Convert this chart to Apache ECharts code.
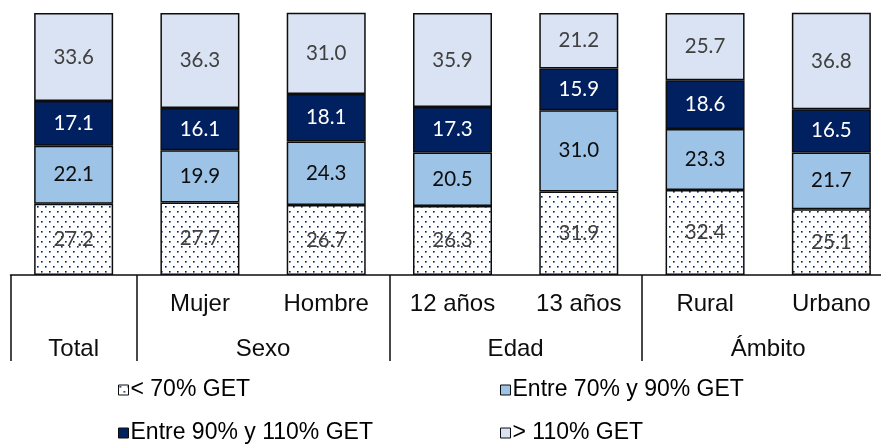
<!DOCTYPE html>
<html>
<head>
<meta charset="utf-8">
<script src="https://cdn.jsdelivr.net/npm/echarts@6/dist/echarts.min.js"></script>
<style>
  html, body { margin: 0; padding: 0; background: #ffffff; }
  #chart { width: 881px; height: 444px; }
</style>
</head>
<body>
<div id="chart"></div>
<script>
// Categories shown under each bar (Total carries its name in the lower row)
const categories = ['', 'Mujer', 'Hombre', '12 años', '13 años', 'Rural', 'Urbano'];

// Lower header row: group names and the axis position of their centres
const groupNames = ['Total', 'Sexo', 'Edad', 'Ámbito'];
const groupCenters = [0.5, 2, 4, 6];
// Group boundaries, in category units
const groupBounds = [0, 1, 3, 5, 7];

// Shares (%) by GET band, stacked bottom to top
const seriesNames = ['< 70% GET', 'Entre 70% y 90% GET', 'Entre 90% y 110% GET', '> 110% GET'];
const below70     = [27.2, 27.7, 26.7, 26.3, 31.9, 32.4, 25.1];
const from70to90  = [22.1, 19.9, 24.3, 20.5, 31.0, 23.3, 21.7];
const from90to110 = [17.1, 16.1, 18.1, 17.3, 15.9, 18.6, 16.5];
const above110    = [33.6, 36.3, 31.0, 35.9, 21.2, 25.7, 36.8];

// Dotted fill for the lowest band
function dotPattern() {
  const c = document.createElement('canvas');
  c.width = 8; c.height = 10;
  const g = c.getContext('2d');
  g.fillStyle = '#ffffff';
  g.fillRect(0, 0, 8, 10);
  g.fillStyle = '#002060';
  g.fillRect(1, 1, 1.6, 1.6);
  g.fillRect(5, 6, 1.6, 1.6);
  return { image: c, repeat: 'repeat' };
}

const fills = [dotPattern(), '#9dc3e6', '#002060', '#dae3f3'];
const labelColors = ['#404040', '#0d0d0d', '#ffffff', '#404040'];
const values = [below70, from70to90, from90to110, above110];

const chart = echarts.init(document.getElementById('chart'), null, { renderer: 'canvas' });

const series = seriesNames.map((name, i) => ({
  name: name,
  type: 'bar',
  stack: 'total',
  barWidth: 79,
  data: values[i],
  itemStyle: { color: fills[i], borderColor: '#0d0d0d', borderWidth: 1.5 },
  label: {
    show: true,
    position: 'inside',
    formatter: p => p.value.toFixed(1),
    color: labelColors[i],
    fontFamily: 'Lato, "Open Sans", sans-serif',
    fontSize: 20.5
  },
  emphasis: { disabled: true }
}));

// One legend block per entry, laid out as a 2 x 2 table
const legendSlots = [
  { left: 118, top: 378 },  // < 70%
  { left: 500, top: 378 },  // 70-90%
  { left: 118, top: 421 },  // 90-110%
  { left: 500, top: 421 }   // > 110%
];
const legends = seriesNames.map((name, i) => ({
  data: [name],
  left: legendSlots[i].left,
  top: legendSlots[i].top,
  padding: 0,
  itemWidth: 10,
  itemHeight: 10,
  icon: 'rect',
  selectedMode: false,
  textStyle: {
    fontFamily: '"Liberation Sans", Arial, sans-serif',
    fontSize: 23,
    color: '#000000',
    lineHeight: 24,
    padding: [0, 0, 0, -3]
  },
  itemStyle: { borderColor: '#0d0d0d', borderWidth: 1 }
}));

chart.setOption({
  animation: false,
  backgroundColor: '#ffffff',
  grid: { left: 10.5, top: 13, width: 884, height: 262, outerBoundsMode: 'none', containLabel: false },
  legend: legends,
  xAxis: [
    {
      type: 'category',
      data: categories,
      position: 'bottom',
      axisLine: { show: true, lineStyle: { color: '#0d0d0d', width: 1.5 } },
      axisTick: { show: false },
      axisLabel: {
        color: '#0d0d0d',
        fontFamily: '"Liberation Sans", Arial, sans-serif',
        fontSize: 24,
        margin: 17
      }
    },
    {
      type: 'value',
      min: 0,
      max: 7,
      position: 'bottom',
      gridIndex: 0,
      axisLine: { show: false },
      splitLine: { show: false },
      axisTick: {
        show: true,
        customValues: groupBounds,
        length: 86,
        lineStyle: { color: '#0d0d0d', width: 1.5 }
      },
      axisLabel: {
        show: true,
        customValues: groupCenters,
        formatter: v => groupNames[groupCenters.indexOf(v)],
        color: '#0d0d0d',
        fontFamily: '"Liberation Sans", Arial, sans-serif',
        fontSize: 24,
        margin: 62
      }
    }
  ],
  yAxis: { type: 'value', min: 0, max: 100, show: false },
  series: series
});
</script>
</body>
</html>
